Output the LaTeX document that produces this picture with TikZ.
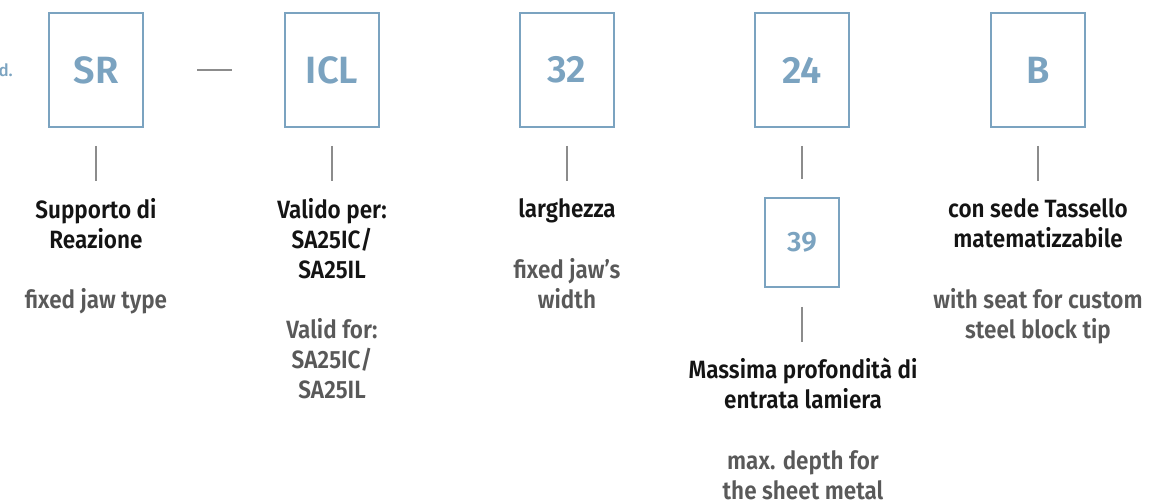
\documentclass[tikz,border=0pt]{standalone}
\usepackage{fontspec}
\setmainfont{Fira Sans Medium}[BoldFont={Fira Sans SemiBold}]
\newfontfamily\labelfont{Fira Sans SemiBold}[FakeStretch=0.9]
\usetikzlibrary{positioning}
\definecolor{codeblue}{HTML}{7BA3C0}
\definecolor{itblack}{HTML}{141414}
\definecolor{engray}{HTML}{595959}
\definecolor{tickgray}{HTML}{8C8C8C}
\tikzset{
  codebox/.style = {draw=codeblue, line width=2pt, minimum width=94pt, minimum height=114pt,
    inner sep=0pt, text=codeblue, font=\fontsize{38}{38}\selectfont\bfseries},
  subbox/.style = {codebox, minimum width=74pt, minimum height=89pt, font=\fontsize{28}{28}\selectfont\bfseries},
  itlabel/.style = {align=center, anchor=north, inner sep=0pt, text=itblack, font=\labelfont\fontsize{25}{30}\selectfont},
  enlabel/.style = {itlabel, text=engray},
  tick/.style = {draw=tickgray, line width=1.2pt}
}

\begin{document}
\begin{tikzpicture}[x=1pt, y=-1pt]
\useasboundingbox (0,0) rectangle (1153,502);

    %Code boxes
    \node[codebox] (SR) at (96,70) {SR};
    \node[codebox] (ICL) at (332,70) {ICL};
    \node[codebox] (W) at (567,70) {32};
    \node[codebox] (D) at (802,70) {24};
    \node[codebox] (B) at (1038,70) {B};
    \node[subbox] (M) at (802,242.5) {39};
    \node[anchor=east, inner sep=0pt, text=codeblue, font=\fontsize{17}{17}\selectfont] (cod) at (13,70) {d.};

    \draw[tick] ([xshift=53pt]SR.east) -- ([xshift=-52pt]ICL.west);

    %Ticks
    \draw[tick] ([yshift=-18pt]SR.south) -- ([yshift=-53pt]SR.south);
    \draw[tick] ([yshift=-18pt]ICL.south) -- ([yshift=-53pt]ICL.south);
    \draw[tick] ([yshift=-18pt]W.south) -- ([yshift=-53pt]W.south);
    \draw[tick] ([yshift=-18pt]D.south) -- ([yshift=18pt]M.north);
    \draw[tick] ([yshift=-18pt]B.south) -- ([yshift=-53pt]B.south);
    \draw[tick] ([yshift=-19pt]M.south) -- ([yshift=-54pt]M.south);

    %Labels
    \node[itlabel] (srIt) at (96,198) {Supporto di\\Reazione};
    \node[enlabel] (srEn) at (96,288) {fixed jaw type};
    \node[itlabel] (iclIt) at (332,198) {Valido per:\\SA25IC/\\SA25IL};
    \node[enlabel] (iclEn) at (332,318) {Valid for:\\SA25IC/\\SA25IL};
    \node[itlabel] (wIt) at (567,198) {larghezza};
    \node[enlabel] (wEn) at (567,258) {fixed jaw’s\\width};
    \node[itlabel] (mIt) at (803,358) {Massima profondità di\\entrata lamiera};
    \node[enlabel] (mEn) at (803,450) {max. depth for\\the sheet metal};
    \node[itlabel] (bIt) at (1038,198) {con sede Tassello\\matematizzabile};
    \node[enlabel] (bEn) at (1038,288) {with seat for custom\\steel block tip};
\end{tikzpicture}
\end{document}
